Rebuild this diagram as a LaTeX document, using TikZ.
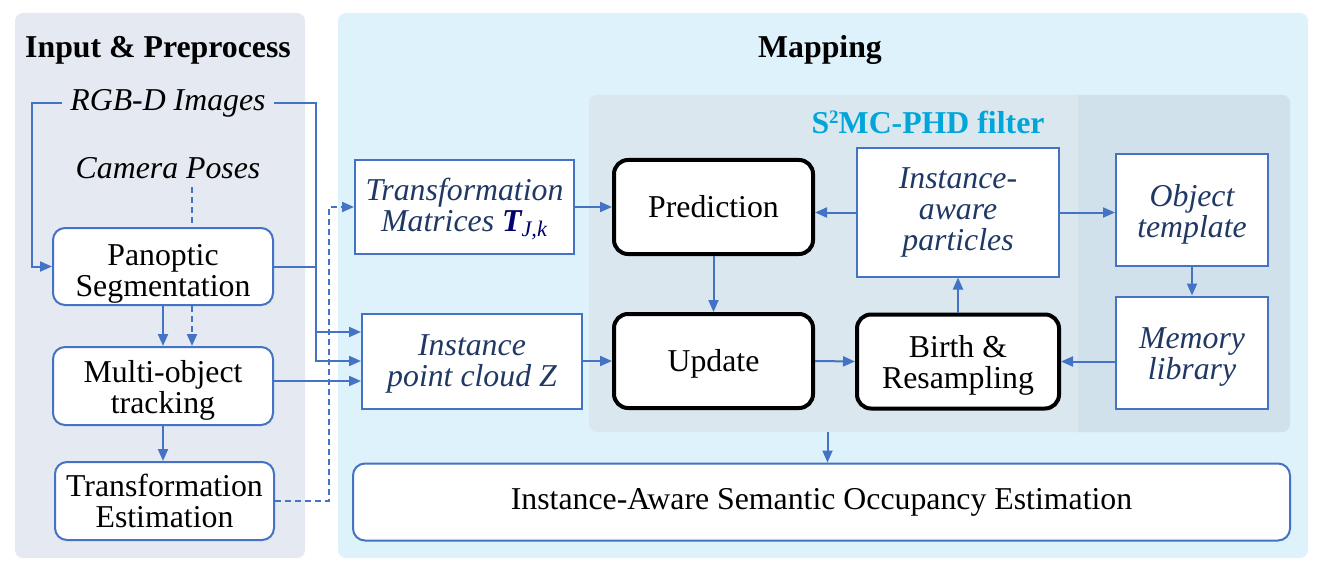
\documentclass[tikz,border=0pt]{standalone}
\usepackage{fontspec}
\setmainfont{Liberation Serif}
\usetikzlibrary{positioning, arrows.meta, calc}

\definecolor{lineblue}{RGB}{68,114,196}
\definecolor{inbg}{RGB}{228,233,242}
\definecolor{mapbg}{RGB}{221,242,251}
\definecolor{phdbg}{RGB}{218,231,239}
\definecolor{libbg}{RGB}{208,225,235}
\definecolor{navytext}{RGB}{31,56,100}
\definecolor{tbold}{RGB}{0,0,110}
\definecolor{phdcyan}{RGB}{0,166,218}

\newcommand{\figfont}{\fontsize{15.9}{15.5}\selectfont}
\newcommand{\topgap}[1]{\rule{0pt}{#1}}

\tikzset{
    panel/.style={fill=#1, rounded corners=4pt, inner sep=0pt},
    title/.style={font=\figfont\bfseries},
    softbox/.style={draw=lineblue, line width=1pt, fill=white, rounded corners=6pt, align=center, font=\figfont, inner sep=0pt},
    databox/.style={draw=lineblue, line width=1pt, fill=white, align=center, font=\figfont\itshape, text=navytext, inner sep=0pt},
    corebox/.style={draw=black, line width=2pt, fill=white, rounded corners=7pt, align=center, font=\figfont, inner sep=0pt},
    flow/.style={draw=lineblue, line width=1pt, -{Triangle[length=6pt,width=5pt]}},
    dflow/.style={flow, dash pattern=on 3pt off 2pt},
    dline/.style={draw=lineblue, line width=1pt, dash pattern=on 3pt off 2pt},
}

\begin{document}
\begin{tikzpicture}[x=0.5pt, y=-0.5pt]
    \useasboundingbox (0,0) rectangle (1320,572);

    % panels
    \node[panel=inbg, minimum width=145pt, minimum height=272.5pt] (inpanel) at (160,285.5) {};
    \node[panel=mapbg, minimum width=485pt, minimum height=272.5pt] (mappanel) at (823,285.5) {};
    \node[panel=phdbg, minimum width=350.5pt, minimum height=168.5pt] (phd) at (939.5,263.5) {};
    \begin{scope}
        \clip (1078,0) rectangle (1320,572);
        \node[panel=libbg, minimum width=350.5pt, minimum height=168.5pt] (lib) at (939.5,263.5) {};
    \end{scope}

    \node[title] (intitle) at (158,50) {Input \& Preprocess};
    \node[title] (maptitle) at (820,50) {Mapping};
    \node[title, text=phdcyan] (phdtitle) at (928,122)
        {S\raisebox{4.6pt}{\fontsize{9.5}{9.5}\selectfont 2}MC-PHD filter};

    % input & preprocess
    \node[font=\figfont\itshape, inner sep=4pt] (rgbd) at (168,103) {RGB-D Images};
    \node[font=\figfont\itshape, inner sep=4pt] (cam) at (168,168) {Camera Poses};
    \node[softbox, minimum width=110pt, minimum height=38.5pt] (pan) at (163,266.5) {\topgap{18pt}Panoptic\\Segmentation};
    \node[softbox, minimum width=110pt, minimum height=39pt] (mot) at (163,386) {\topgap{15pt}Multi-object\\tracking};
    \node[softbox, minimum width=109.5pt, minimum height=39pt] (tre) at (164.5,501) {Transformation\\Estimation};

    % mapping
    \node[databox, minimum width=109.5pt, minimum height=47pt] (tm) at (464.5,207)
        {\topgap{13pt}Transformation\\Matrices {\color{tbold}\bfseries T}\textsubscript{\color{tbold}J,k}};
    \node[databox, minimum width=110pt, minimum height=47.5pt] (ipc) at (472,361) {\topgap{13pt}Instance\\point cloud Z};
    \node[corebox, minimum width=99.5pt, minimum height=47pt] (pred) at (713.5,207) {Prediction};
    \node[corebox, minimum width=99.5pt, minimum height=47pt] (upd) at (713.5,361) {\topgap{14pt}Update};
    \node[databox, minimum width=101pt, minimum height=64pt] (iap) at (958,212.5) {Instance-\\aware\\particles};
    \node[corebox, minimum width=101pt, minimum height=47pt] (bir) at (958,361.5) {\topgap{15pt}Birth \&\\Resampling};
    \node[databox, minimum width=76pt, minimum height=56pt] (ot) at (1192,210) {\topgap{15pt}Object\\template};
    \node[databox, minimum width=76pt, minimum height=56pt] (ml) at (1192,352.5) {\topgap{15pt}Memory\\library};
    \node[softbox, minimum width=468.5pt, minimum height=38.5pt] (occ) at (821.5,502) {Instance-Aware Semantic Occupancy Estimation};

    % connectors, left side
    \coordinate (camx) at (192,0);
    \coordinate (motout) at ([yshift=2.5pt]mot.east);
    \draw[flow] (rgbd.west) -| ([xshift=-10pt]pan.west) -- (pan.west);
    \draw[flow] (rgbd.east) -| ([xshift=-22.5pt,yshift=14.5pt]ipc.west) -- ([yshift=14.5pt]ipc.west);
    \draw[flow] (pan.east) -| ([xshift=-22.5pt]ipc.west) -- (ipc.west);
    \draw[flow] (motout) -- (motout -| ipc.west);
    \draw[dline] (cam.south -| camx) -- (pan.north -| camx);
    \draw[flow] (pan.south) -- (mot.north);
    \draw[dflow] (pan.south -| camx) -- (mot.north -| camx);
    \draw[flow] (mot.south) -- (mot.south |- tre.north);
    \draw[dflow] (tre.east) -| ([xshift=-12.5pt]tm.west) -- (tm.west);

    % connectors, mapping
    \draw[flow] (tm.east) -- (pred.west);
    \draw[flow] (ipc.east) -- (upd.west);
    \draw[flow] (pred.south) -- (upd.north);
    \draw[flow] (upd.east) -- (bir.west);
    \draw[flow] (bir.north) -- (bir.north |- iap.south);
    \draw[flow] (iap.west) -- (iap.west -| pred.east);
    \draw[flow] (iap.east) -- (iap.east -| ot.west);
    \draw[flow] (ot.south) -- (ml.north);
    \draw[flow] (bir.east -| ml.west) -- (bir.east);
    \draw[flow] ([xshift=3pt]occ.north |- phd.south) -- ([xshift=3pt]occ.north);
\end{tikzpicture}
\end{document}
